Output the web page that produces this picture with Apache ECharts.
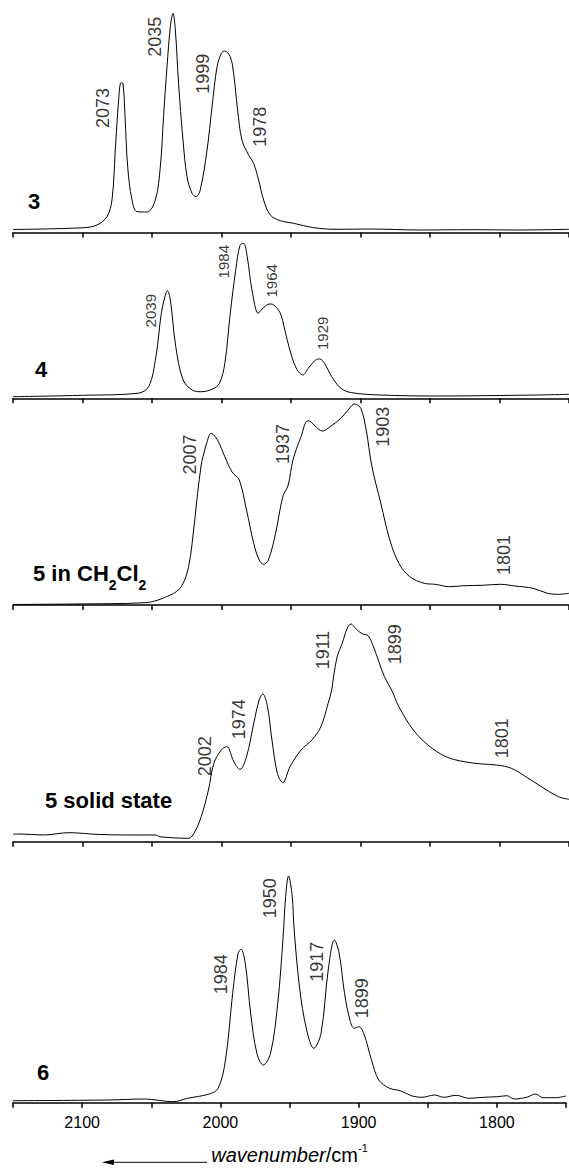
<!DOCTYPE html>
<html>
<head>
<meta charset="utf-8">
<script src="https://cdn.jsdelivr.net/npm/echarts@6/dist/echarts.min.js"></script>
<style>
  html, body { margin: 0; padding: 0; background: #fff; }
  #chart { width: 569px; height: 1173px; }
</style>
</head>
<body>
<div id="chart"></div>
<script>
// IR spectra, wavenumber (cm-1) vs absorbance (arbitrary units)
var wn3 = [2150, 2099.2, 2089.6, 2082.4, 2078.8, 2076.4, 2074, 2072.3, 2070.9, 2069.4, 2067.5, 2064.4, 2060.8, 2053.6, 2047.6, 2044, 2041.7, 2039.2, 2036.8, 2034.9, 2033.2, 2030.9, 2027.7, 2024.8, 2021.2, 2018.3, 2015.3, 2010.4, 2006.8, 2003.2, 2000.1, 1997.8, 1993.7, 1991.3, 1988.4, 1985.3, 1980.5, 1976.9, 1973.3, 1969.7, 1964.9, 1957.7, 1948.1, 1933.7, 1916.9, 1893, 1857, 1821, 1785, 1750];
var ab3 = [3, 4.8, 7.5, 15.8, 32.5, 82.5, 132.5, 149.8, 149.2, 115.8, 65.8, 32.5, 20.8, 20.5, 32.5, 65.8, 115.8, 165.8, 205.8, 219.2, 202.5, 149.2, 92.5, 55.8, 39.2, 35.8, 42.5, 82.5, 125.8, 165.8, 179.2, 181.5, 175.8, 159.2, 122.5, 92.5, 77.5, 69.2, 52.5, 32.5, 17.5, 11.8, 9.2, 4.8, 3.2, 3.5, 2.5, 2.8, 2.5, 3.2];

var wn4 = [2150, 2100, 2060.3, 2052.4, 2047.2, 2043.3, 2040.7, 2038.9, 2036.8, 2032.9, 2027.6, 2021.1, 2014.6, 2006.8, 2001.5, 1997.6, 1993.7, 1989.8, 1986.7, 1984.1, 1981.5, 1978.1, 1973.6, 1971.6, 1967.6, 1964.3, 1960.6, 1957.2, 1953.3, 1949.4, 1945.5, 1941.5, 1937.6, 1932.4, 1929.3, 1925.9, 1920.7, 1914.1, 1906.3, 1885.4, 1846.3, 1773.3, 1750];
var ab4 = [1.6, 3, 5, 11.7, 41.6, 85, 101.6, 107.6, 98.3, 51.6, 18.3, 8.3, 6.6, 9, 15, 35, 85, 128, 153, 155, 141.6, 108.3, 85, 88, 93.3, 94.3, 91, 83.3, 61.6, 41.6, 28.3, 23.3, 30, 38.3, 39.3, 35, 21.6, 10, 5.6, 3.3, 2.3, 3.3, 4];

var wn5sol = [2150, 2107, 2055, 2036.8, 2029, 2023.7, 2019.8, 2017.2, 2014.6, 2013.3, 2010.7, 2007.5, 2002.9, 1997.6, 1992.4, 1987.2, 1982, 1976.8, 1972.9, 1969.7, 1966.3, 1961.1, 1955.9, 1952, 1948.6, 1942.8, 1937.6, 1927.2, 1921.9, 1914.1, 1908.9, 1904.2, 1899.8, 1895.9, 1892, 1885.4, 1878.9, 1872.4, 1864.6, 1854.1, 1846.3, 1835.9, 1825.4, 1812.4, 1799.3, 1788.9, 1775.9, 1765.4, 1757.6, 1750];
var ab5sol = [0.5, 1, 2.3, 10, 18.3, 38.3, 78.3, 111.6, 140, 148.3, 161.7, 171.7, 165, 148.3, 133, 125, 95, 61.6, 45, 40.7, 45, 71.6, 108.3, 120, 145, 168.3, 184.3, 174, 178.3, 186.7, 195, 201, 196.7, 175, 140, 101.7, 65, 41.7, 28.3, 21.7, 20.7, 18.3, 19.3, 19.7, 20.7, 19, 16.7, 11.7, 10.7, 11.7];

var wn5ss = [2150, 2145, 2128.1, 2109.8, 2089, 2068.1, 2047.2, 2044.6, 2023.7, 2019.8, 2014.6, 2009.4, 2005.5, 2000.2, 1996.3, 1991.1, 1986.7, 1982, 1976.8, 1972.9, 1970.3, 1966.9, 1963.7, 1959.8, 1955.9, 1950.7, 1942.8, 1935, 1928.5, 1923.3, 1920.7, 1919.4, 1916.8, 1914.1, 1906.8, 1902.4, 1898.5, 1894.6, 1890.7, 1882.8, 1877.6, 1872.4, 1862, 1851.5, 1838.5, 1825.4, 1812.4, 1802, 1791.5, 1781.1, 1768, 1757.6, 1750];
var ab5ss = [7.5, 7.7, 6.7, 9, 7.3, 6.7, 6.7, 5, 3.4, 8.4, 25, 51.7, 78.3, 91.7, 95, 80, 72.3, 85, 118.3, 141.7, 147.7, 135, 101.7, 68.3, 59, 75, 91.7, 101.7, 115, 138.3, 151.7, 165, 185, 195, 217.7, 211.7, 207.7, 206, 195, 165, 151.7, 135, 111.7, 96.7, 85, 80, 77.7, 76.7, 73.4, 65, 53.4, 45, 42.4];

var wn6 = [2150, 2081.1, 2055, 2034.2, 2023.7, 2008.1, 2001.6, 1996.3, 1991.1, 1987.2, 1985.1, 1982, 1978.1, 1973.6, 1969, 1963.7, 1958.5, 1954.6, 1952.8, 1950.7, 1948, 1946.8, 1942.8, 1937.6, 1932.4, 1927.2, 1922, 1917.5, 1914.1, 1910.2, 1906.3, 1903.2, 1899.8, 1895.9, 1890.7, 1885.4, 1877.6, 1869.8, 1861.9, 1854.1, 1845, 1838.5, 1829.4, 1820.2, 1809.8, 1799.4, 1792.8, 1787.6, 1778.5, 1772, 1766.7, 1757.6, 1750];
var ab6 = [2, 2.7, 3.7, 1, 4.4, 8.7, 14.4, 42.7, 109.4, 149.4, 153.4, 139.4, 89.4, 49.4, 37.7, 49.4, 99.4, 166, 206, 226.7, 206, 176, 116, 72.7, 54.4, 69.4, 132.7, 162.7, 149.4, 109.4, 82.7, 74.4, 76, 67.7, 42.7, 22.7, 14.4, 12, 7, 5.4, 7.7, 5.4, 7.4, 4.4, 5.4, 6, 7, 3.7, 5.4, 8.7, 5, 5, 6.7];

// peak annotations: text, wavenumber, height where the label sits
var peaks3 = [['2073', 2085, 124.5], ['2035', 2047.6, 195.8], ['1999', 2013.1, 158.8], ['1978', 1972.1, 105.8]];
var peaks4 = [['2039', 2051.1, 87.6], ['1984', 1998.9, 136.6], ['1964', 1964.2, 117.5], ['1929', 1927.2, 65]];
var peaks5sol = [['2007', 2022.4, 150.5], ['1937', 1955.9, 161], ['1903', 1884.1, 178.3], ['1801', 1796.7, 50]];
var peaks5ss = [['2002', 2012, 85.4], ['1974', 1987.2, 122.5], ['1911', 1927.2, 191.7], ['1899', 1875, 197.5], ['1801', 1798, 103.4]];
var peaks6 = [['1984', 1999.7, 128.5], ['1950', 1964.2, 204.4], ['1917', 1929.8, 141], ['1899', 1897.2, 104.4]];

var xTicks = [2100, 2000, 1900, 1800];

var FONT = 'Liberation Sans';

var panels = [
  { wn: wn3, ab: ab3, peaks: peaks3, top: 0, h: 232.5, pf: 18 },
  { wn: wn4, ab: ab4, peaks: peaks4, top: 233, h: 165.3, pf: 15 },
  { wn: wn5sol, ab: ab5sol, peaks: peaks5sol, top: 398.3, h: 206.7, pf: 18 },
  { wn: wn5ss, ab: ab5ss, peaks: peaks5ss, top: 605, h: 236.7, pf: 18 },
  { wn: wn6, ab: ab6, peaks: peaks6, top: 841.7, h: 261, pf: 18 }
];

var chart = echarts.init(document.getElementById('chart'), null, { renderer: 'svg' });

var grids = [], xAxes = [], yAxes = [], series = [];
panels.forEach(function (p, i) {
  var last = i === panels.length - 1;
  grids.push({ left: 13, right: 0, top: p.top, height: p.h });
  xAxes.push({
    gridIndex: i,
    type: 'value',
    inverse: true,
    min: 1750,
    max: 2150,
    interval: 50,
    splitLine: { show: false },
    axisLine: { lineStyle: { color: '#000', width: 1.5 } },
    axisTick: { length: 5, lineStyle: { color: '#000', width: 1.5 } },
    axisLabel: {
      show: last,
      margin: 12,
      color: '#000',
      fontFamily: FONT,
      fontSize: 16,
      formatter: function (v) { return xTicks.indexOf(v) >= 0 ? String(v) : ''; }
    },
    name: last ? '{i|wavenumber}{n|/cm}{s|-1}' : '',
    nameLocation: 'middle',
    nameGap: 40,
    nameTextStyle: {
      color: '#000',
      rich: {
        i: { fontFamily: FONT, fontStyle: 'italic', fontSize: 20, color: '#000', verticalAlign: 'bottom', lineHeight: 22 },
        n: { fontFamily: FONT, fontSize: 20, color: '#000', verticalAlign: 'bottom', lineHeight: 22 },
        s: { fontFamily: FONT, fontSize: 11, color: '#000', verticalAlign: 'top', lineHeight: 22 }
      }
    }
  });
  yAxes.push({ gridIndex: i, type: 'value', min: 0, max: p.h, show: false });

  series.push({
    type: 'line',
    xAxisIndex: i,
    yAxisIndex: i,
    data: p.wn.map(function (w, k) { return [w, p.ab[k]]; }),
    showSymbol: false,
    smooth: 0.35,
    lineStyle: { color: '#000', width: 1 },
    silent: true
  });
  series.push({
    type: 'scatter',
    xAxisIndex: i,
    yAxisIndex: i,
    data: p.peaks.map(function (q) { return [q[1], q[2], q[0]]; }),
    symbolSize: 1,
    itemStyle: { color: 'rgba(0,0,0,0)' },
    silent: true,
    label: {
      show: true,
      position: 'inside',
      rotate: 90,
      color: '#000',
      fontFamily: FONT,
      fontSize: p.pf,
      formatter: function (prm) { return prm.data[2]; }
    }
  });
});

var nameStyle = { fontFamily: FONT, fontWeight: 'bold', fontSize: 22, fill: '#000' };
function nameText(txt, x, y) {
  return { type: 'text', left: x, top: y, style: Object.assign({ text: txt }, nameStyle) };
}

chart.setOption({
  animation: false,
  backgroundColor: '#fff',
  grid: grids,
  xAxis: xAxes,
  yAxis: yAxes,
  series: series,
  graphic: [
    nameText('3', 28, 190),
    nameText('4', 35, 358),
    {
      type: 'text', left: 33, top: 562,
      style: {
        text: '{b|5 in CH}{s|2}{b|Cl}{s|2}',
        rich: {
          b: { fontFamily: FONT, fontWeight: 'bold', fontSize: 22, fill: '#000', verticalAlign: 'top', lineHeight: 30 },
          s: { fontFamily: FONT, fontWeight: 'bold', fontSize: 14, fill: '#000', verticalAlign: 'bottom', lineHeight: 30 }
        }
      }
    },
    nameText('5 solid state', 45, 789),
    nameText('6', 37, 1061),
    {
      type: 'line',
      shape: { x1: 207, y1: 1162.3, x2: 110, y2: 1162.3 },
      style: { stroke: '#000', lineWidth: 1 }
    },
    {
      type: 'polygon',
      shape: { points: [[101.7, 1162.3], [114, 1159.5], [114, 1165.1]] },
      style: { fill: '#000' }
    }
  ]
});
</script>
</body>
</html>
